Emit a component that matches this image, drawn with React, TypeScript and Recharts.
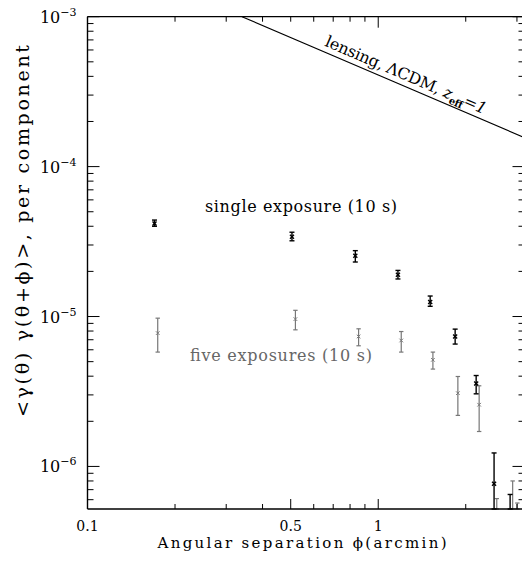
import { ComposedChart, Scatter, Line, XAxis, YAxis, ErrorBar } from 'recharts';

// angular separation (arcmin), value, lower and upper end of the error bar
const singleX = [0.17, 0.505, 0.834, 1.169, 1.509, 1.839, 2.172, 2.503, 2.842];
const singleY = [4.18e-5, 3.41e-5, 2.54e-5, 1.9e-5, 1.25e-5, 7.36e-6, 3.58e-6, 7.67e-7, 4.0e-7];
const singleLo = [4.0e-5, 3.2e-5, 2.31e-5, 1.78e-5, 1.17e-5, 6.55e-6, 3.05e-6, 2.0e-7, 2.0e-7];
const singleHi = [4.4e-5, 3.65e-5, 2.75e-5, 2.03e-5, 1.37e-5, 8.24e-6, 4.04e-6, 1.23e-6, 6.5e-7];

const fiveX = [0.1744, 0.519, 0.856, 1.2, 1.542, 1.879, 2.224, 2.557, 2.9, 3.01];
const fiveY = [7.75e-6, 9.61e-6, 7.36e-6, 6.92e-6, 5.14e-6, 3.08e-6, 2.58e-6, 4.0e-7, 4.0e-7, 4.0e-7];
const fiveLo = [5.79e-6, 8.15e-6, 6.38e-6, 5.79e-6, 4.46e-6, 2.19e-6, 1.71e-6, 2.0e-7, 2.0e-7, 2.0e-7];
const fiveHi = [9.75e-6, 1.1e-5, 8.28e-6, 7.94e-6, 5.79e-6, 3.98e-6, 3.45e-6, 6.1e-7, 8.0e-7, 5.7e-7];

// lensing prediction, LCDM, z_eff = 1
const lensX = [0.34, 1.0, 3.16];
const lensY = [1.0e-3, 4.08e-4, 1.57e-4];

const X_DOMAIN = [0.1, 3.16];
const Y_DOMAIN = [5.2e-7, 1e-3];

const xTicks = [0.1, 0.2, 0.3, 0.4, 0.5, 0.6, 0.7, 0.8, 0.9, 1, 2, 3];
const xLabels: Record<string, string> = { '0.1': '0.1', '0.5': '0.5', '1': '1' };
const yDecades = [1e-6, 1e-5, 1e-4, 1e-3];
const yMantissas = [2, 3, 4, 5, 6, 7, 8, 9];

const yTicks = [6e-7, 7e-7, 8e-7, 9e-7];
yDecades.forEach((d) => {
  yTicks.push(d);
  if (d < 1e-3) yMantissas.forEach((m) => yTicks.push(m * d));
});

// error bars that run off the bottom of the frame stop at the axis
const withErr = (xs: number[], ys: number[], lo: number[], hi: number[]) =>
  xs.map((x, i) => {
    const y = Math.max(ys[i], Y_DOMAIN[0]);
    const low = Math.max(lo[i], Y_DOMAIN[0]);
    return { x, y, hidden: ys[i] < Y_DOMAIN[0], err: [y - low, hi[i] - y] };
  });

const single = withErr(singleX, singleY, singleLo, singleHi);
const five = withErr(fiveX, fiveY, fiveLo, fiveHi);
const lens = lensX.map((x, i) => ({ x, y: lensY[i] }));

const FONT = '"DejaVu Serif", serif';
const isDecade = (v: number) => Math.abs(Math.log10(v) - Math.round(Math.log10(v))) < 1e-6;

function BottomTick({ x, y, payload }: any) {
  const label = xLabels[String(payload.value)];
  return (
    <g>
      <line x1={x} x2={x} y1={y} y2={y - (label ? 10 : 5)} stroke="#000" />
      {label && (
        <text x={x} y={y + 22} textAnchor="middle" fontSize={14} fontFamily={FONT} fill="#000">
          {label}
        </text>
      )}
    </g>
  );
}

function TopTick({ x, y, payload }: any) {
  const major = payload.value === 1;
  return <line x1={x} x2={x} y1={y} y2={y + (major ? 11 : 5)} stroke="#000" />;
}

function LeftTick({ x, y, payload }: any) {
  const major = isDecade(payload.value);
  return (
    <g>
      <line x1={x} x2={x + (major ? 12 : 6)} y1={y} y2={y} stroke="#000" />
      {major && (
        <text x={x - 11} y={y + 6} textAnchor="end" fontSize={16} fontFamily={FONT} fill="#000">
          10
          <tspan dy={-7} fontSize={11}>
            {'\u2212' + Math.abs(Math.round(Math.log10(payload.value)))}
          </tspan>
        </text>
      )}
    </g>
  );
}

function RightTick({ x, y, payload }: any) {
  const major = isDecade(payload.value);
  return <line x1={x} x2={x - (major ? 11 : 5)} y1={y} y2={y} stroke="#000" />;
}

const cross = (color: string, r: number, w: number) => (p: any) =>
  p.payload && p.payload.hidden ? (
    <g />
  ) : (
    <g stroke={color} strokeWidth={w}>
      <line x1={p.cx - r} y1={p.cy - r} x2={p.cx + r} y2={p.cy + r} />
      <line x1={p.cx - r} y1={p.cy + r} x2={p.cx + r} y2={p.cy - r} />
    </g>
  );

export default function App() {
  return (
    <div style={{ position: 'absolute', left: 0, top: 0, width: 522, height: 563, overflow: 'hidden', background: '#fff' }}>
      <ComposedChart width={530} height={563} margin={{ top: 15.7, right: 5.5, bottom: 0, left: 27.5 }}>
        <XAxis
          dataKey="x"
          type="number"
          scale="log"
          domain={X_DOMAIN}
          allowDataOverflow
          ticks={xTicks}
          interval={0}
          height={54}
          tickSize={0}
          tickMargin={0}
          tickLine={false}
          tick={BottomTick}
          axisLine={{ stroke: '#000', strokeWidth: 1.6 }}
        />
        <XAxis
          xAxisId="top"
          orientation="top"
          dataKey="x"
          type="number"
          scale="log"
          domain={X_DOMAIN}
          allowDataOverflow
          ticks={xTicks}
          interval={0}
          height={1}
          tickSize={0}
          tickMargin={0}
          tickLine={false}
          tick={TopTick}
          axisLine={{ stroke: '#000', strokeWidth: 1.2 }}
        />
        <YAxis
          type="number"
          scale="log"
          domain={Y_DOMAIN}
          allowDataOverflow
          ticks={yTicks}
          interval={0}
          width={60}
          tickSize={0}
          tickMargin={0}
          tickLine={false}
          tick={LeftTick}
          axisLine={{ stroke: '#000', strokeWidth: 1.4 }}
        />
        <YAxis
          yAxisId="right"
          orientation="right"
          type="number"
          scale="log"
          domain={Y_DOMAIN}
          allowDataOverflow
          ticks={yTicks}
          interval={0}
          width={1}
          tickSize={0}
          tickMargin={0}
          tickLine={false}
          tick={RightTick}
          axisLine={{ stroke: '#000' }}
        />
        <Line data={lens} dataKey="y" stroke="#000" strokeWidth={1.2} dot={false} isAnimationActive={false} />
        <Scatter data={five} dataKey="y" shape={cross('#777', 1.8, 1)} isAnimationActive={false}>
          <ErrorBar dataKey="err" direction="y" width={2.2} stroke="#777" strokeWidth={1.2} />
        </Scatter>
        <Scatter data={single} dataKey="y" shape={cross('#000', 2, 1.4)} isAnimationActive={false}>
          <ErrorBar dataKey="err" direction="y" width={2.5} stroke="#000" strokeWidth={1.4} />
        </Scatter>
      </ComposedChart>
      <svg width={522} height={563} style={{ position: 'absolute', left: 0, top: 0, pointerEvents: 'none' }}>
        <text
          x={29}
          y={231}
          transform="rotate(-90, 29, 231)"
          textAnchor="middle"
          fontSize={19}
          textLength={372}
          lengthAdjust="spacing"
          fontFamily={FONT}
          fill="#000"
        >
          {'<\u03b3(\u03b8)  \u03b3(\u03b8+\u03d5)>, per component'}
        </text>
        <text
          x={302}
          y={548}
          textAnchor="middle"
          fontSize={15}
          textLength={289}
          lengthAdjust="spacing"
          fontFamily={FONT}
          fill="#000"
        >
          {'Angular separation \u03d5(arcmin)'}
        </text>
        <text
          x={301}
          y={212}
          textAnchor="middle"
          fontSize={16}
          textLength={192}
          lengthAdjust="spacing"
          fontFamily={FONT}
          fill="#000"
        >
          single exposure (10 s)
        </text>
        <text
          x={281}
          y={361}
          textAnchor="middle"
          fontSize={16}
          textLength={182}
          lengthAdjust="spacing"
          fontFamily={FONT}
          fill="#666"
        >
          five exposures (10 s)
        </text>
        <text
          x={324}
          y={45.6}
          transform="rotate(23.2, 324, 45.6)"
          fontSize={16}
          textLength={174}
          lengthAdjust="spacing"
          fontFamily={FONT}
          fill="#000"
        >
          {'lensing,  \u039bCDM,  '}
          <tspan fontStyle="italic">z</tspan>
          <tspan dy={4} fontSize={10} fontWeight="bold">eff</tspan>
          <tspan dy={-4}>=</tspan>
          <tspan fontStyle="italic">1</tspan>
        </text>
      </svg>
    </div>
  );
}
